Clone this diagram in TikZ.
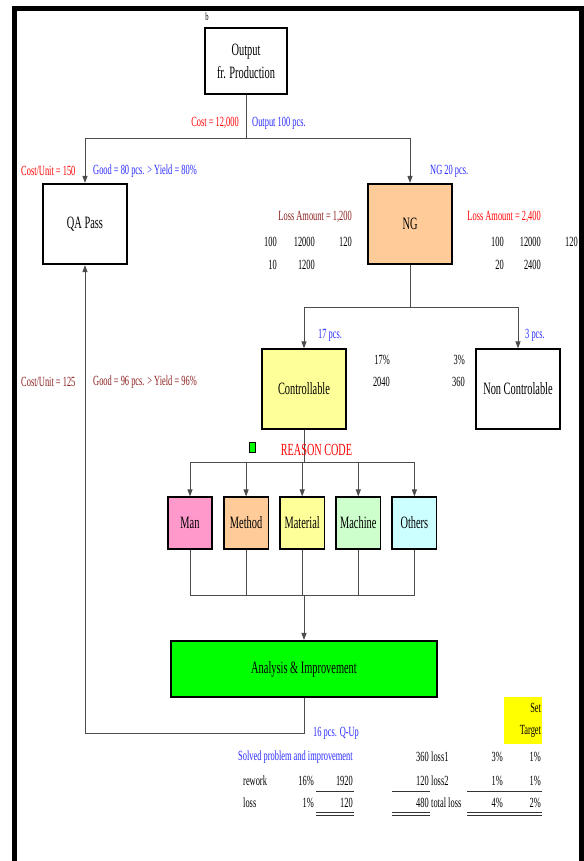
\documentclass[tikz,border=0pt]{standalone}
\usepackage{fontspec}
\setmainfont{Liberation Serif}[FakeStretch=0.6]
\usetikzlibrary{arrows.meta, positioning}
\definecolor{qcred}{HTML}{FF0000}
\definecolor{qcblue}{HTML}{2A2AFF}
\definecolor{qcmaroon}{HTML}{8B1E1E}
\definecolor{qcpeach}{HTML}{FFCC99}
\definecolor{qcyellow}{HTML}{FFFF99}
\definecolor{qcpink}{HTML}{FF99CC}
\definecolor{qcmint}{HTML}{CCFFCC}
\definecolor{qcice}{HTML}{CCFFFF}
\definecolor{qcgreen}{HTML}{00FF00}
\definecolor{qcgold}{HTML}{FFFF00}
\tikzset{
  qc box/.style={
    rectangle, draw=black, line width=1.6pt, fill=white,
    align=center, inner sep=2pt,
    font=\fontsize{17.3}{23}\selectfont
  },
  qc cause/.style={
    qc box, minimum width=44.5pt, minimum height=51.5pt
  },
  qc link/.style={
    draw=black!70, line width=0.9pt
  },
  qc arrow/.style={
    qc link, -{Triangle[length=7pt,width=5pt]}
  },
  qc label/.style={
    inner sep=0pt, font=\fontsize{14}{16}\selectfont
  },
  qc rule/.style={
    draw=black!80, line width=0.8pt
  }
}
\begin{document}
\begin{tikzpicture}[x=1pt, y=-1pt]
  \useasboundingbox (0,0) rectangle (583,861);
  % Boxes: production -> QA / NG -> controllable / non controllable
  \node (mark b) [qc label, font=\fontsize{11}{12}\selectfont] at (207,17) {b};
  \node (output) [qc box, minimum width=82.5pt, minimum height=66.5pt] at (246,61) {Output\\fr. Production};
  \node (qa) [qc box, minimum width=84.5pt, minimum height=80.5pt] at (85,224) {QA Pass};
  \node (ng) [qc box, fill=qcpeach, minimum width=84.5pt, minimum height=80.5pt] at (410,224) {NG};
  \node (ctrl) [qc box, fill=qcyellow, minimum width=84.5pt, minimum height=79.5pt] at (304,389) {Controllable};
  \node (nonctrl) [qc box, minimum width=84.5pt, minimum height=79.5pt] at (518,389) {Non Controlable};
  % Reason code row
  \node (man) [qc cause, fill=qcpink] at (190,523) {Man};
  \node (method) [qc cause, fill=qcpeach, right=10pt of man] {Method};
  \node (material) [qc cause, fill=qcyellow, right=10pt of method] {Material};
  \node (machine) [qc cause, fill=qcmint, right=10pt of material] {Machine};
  \node (others) [qc cause, fill=qcice, right=10pt of machine] {Others};
  \node (ana) [qc box, fill=qcgreen, minimum width=266.5pt, minimum height=56.5pt] at (304,669) {Analysis \& Improvement};
  \node (tick) [draw=black, line width=0.8pt, fill=qcgreen, minimum width=6pt, minimum height=10pt, inner sep=0pt] at (252.5,447) {};

  % Junctions
  \coordinate (split out) at (246,138);
  \coordinate (split ng) at (410,307);
  \coordinate (split ctrl) at (304,462);
  \coordinate (join cause) at (304,595);
  \coordinate (back qa) at (85,733);

  \draw [qc link] (output) -- (split out);
  \draw [qc arrow] (split out) -| (qa);
  \draw [qc arrow] (split out) -| (ng);
  \draw [qc link] (ng) -- (split ng);
  \draw [qc arrow] (split ng) -| (ctrl);
  \draw [qc arrow] (split ng) -| (nonctrl);
  \draw [qc link] (ctrl) -- (split ctrl);
  \foreach \c in {man, method, material, machine, others} {
    \draw [qc arrow] (split ctrl) -| (\c);
    \draw [qc link] (\c) |- (join cause);
  }
  \draw [qc arrow] (join cause) -- (ana);
  \draw [qc arrow] (ana) |- (back qa) -- (qa);

  % Labels on the flow
  \node (reason) [qc label, text=qcred, font=\fontsize{17}{19}\selectfont] at (316.5,450) {REASON CODE};
  \node (cost) [qc label, text=qcred, anchor=east] at (239,123) {Cost = 12,000};
  \node (out pcs) [qc label, text=qcblue, anchor=west] at (252,123) {Output 100 pcs.};
  \node (unit a) [qc label, text=qcred, anchor=west] at (21,171) {Cost/Unit = 150};
  \node (good a) [qc label, text=qcblue, anchor=west] at (93,171) {Good = 80 pcs. > Yield = 80\%};
  \node (ng pcs) [qc label, text=qcblue, anchor=west] at (430,171) {NG 20 pcs.};
  \node (unit b) [qc label, text=qcmaroon, anchor=west] at (21,382) {Cost/Unit = 125};
  \node (good b) [qc label, text=qcmaroon, anchor=west] at (93,382) {Good = 96 pcs. > Yield = 96\%};
  \node (ctrl pcs) [qc label, text=qcblue, anchor=west] at (318,335) {17 pcs.};
  \node (nc pcs) [qc label, text=qcblue, anchor=west] at (525,335) {3 pcs.};

  % Loss amounts
  \node (loss a) [qc label, text=qcmaroon, anchor=east] at (352,217) {Loss Amount = 1,200};
  \node (la1) [qc label, anchor=east] at (277,242) {100};
  \node (la2) [qc label, anchor=east] at (315,242) {12000};
  \node (la3) [qc label, anchor=east] at (352,242) {120};
  \node (la4) [qc label, anchor=east] at (277,265) {10};
  \node (la5) [qc label, anchor=east] at (315,265) {1200};
  \node (loss b) [qc label, text=qcred, anchor=east] at (541,217) {Loss Amount = 2,400};
  \node (lb1) [qc label, anchor=east] at (504,242) {100};
  \node (lb2) [qc label, anchor=east] at (541,242) {12000};
  \node (lb3) [qc label, anchor=east] at (578,242) {120};
  \node (lb4) [qc label, anchor=east] at (504,265) {20};
  \node (lb5) [qc label, anchor=east] at (541,265) {2400};
  \node (pc1) [qc label, anchor=east] at (390,360) {17\%};
  \node (pc2) [qc label, anchor=east] at (390,382) {2040};
  \node (pc3) [qc label, anchor=east] at (465,360) {3\%};
  \node (pc4) [qc label, anchor=east] at (465,382) {360};

  % Summary table
  \node (target) [qc label, fill=qcgold, minimum width=38pt, minimum height=47pt, text width=36pt, align=right, font=\fontsize{14}{22}\selectfont] at (523,720.5) {Set\\Target};
  \node (qup) [qc label, text=qcblue, anchor=west] at (313,733) {16 pcs. Q-Up};
  \node (solved) [qc label, text=qcblue, anchor=west] at (238,757) {Solved problem and improvement};
  \node (r1a) [qc label, anchor=east] at (429,757) {360};
  \node (r1b) [qc label, anchor=west] at (431,757) {loss1};
  \node (r1c) [qc label, anchor=east] at (503,757) {3\%};
  \node (r1d) [qc label, anchor=east] at (541,757) {1\%};
  \node (r2a) [qc label, anchor=west] at (243,781) {rework};
  \node (r2b) [qc label, anchor=east] at (314,781) {16\%};
  \node (r2c) [qc label, anchor=east] at (353,781) {1920};
  \node (r2d) [qc label, anchor=east] at (429,781) {120};
  \node (r2e) [qc label, anchor=west] at (431,781) {loss2};
  \node (r2f) [qc label, anchor=east] at (503,781) {1\%};
  \node (r2g) [qc label, anchor=east] at (541,781) {1\%};
  \node (r3a) [qc label, anchor=west] at (243,803) {loss};
  \node (r3b) [qc label, anchor=east] at (314,803) {1\%};
  \node (r3c) [qc label, anchor=east] at (353,803) {120};
  \node (r3d) [qc label, anchor=east] at (429,803) {480};
  \node (r3e) [qc label, anchor=west] at (431,803) {total loss};
  \node (r3f) [qc label, anchor=east] at (503,803) {4\%};
  \node (r3g) [qc label, anchor=east] at (541,803) {2\%};
  \foreach \xa/\xb in {316/354, 392/430, 467/542} {
    \draw [qc rule] (\xa,791) -- (\xb,791);
    \draw [qc rule] (\xa,812) -- (\xb,812);
    \draw [qc rule] (\xa,815) -- (\xb,815);
  }

  % Page frame
  \draw [line width=5pt] (14.5,861) -- (14.5,8.5) -- (581,8.5) -- (581,861);
\end{tikzpicture}
\end{document}
